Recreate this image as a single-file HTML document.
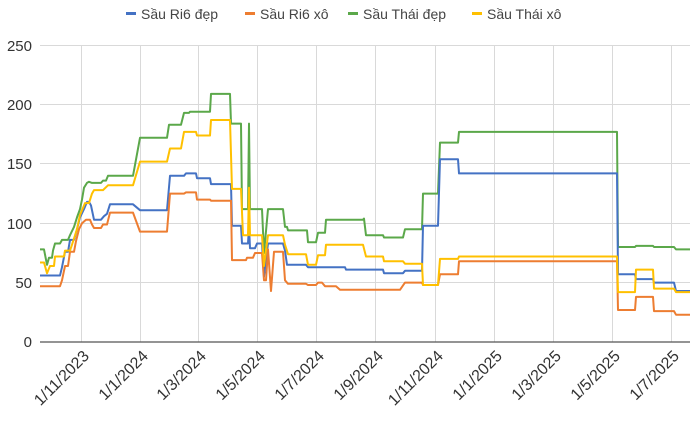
<!DOCTYPE html>
<html><head><meta charset="utf-8"><style>
body{margin:0;background:#fff}
svg{font-family:"Liberation Sans",sans-serif}
</style></head><body>
<svg id="s" width="700" height="420" xmlns="http://www.w3.org/2000/svg">
<rect width="700" height="420" fill="#fff"/>
<g stroke="#d9d9d9" stroke-width="1">
<line x1="40" x2="690" y1="45.5" y2="45.5"/><line x1="40" x2="690" y1="104.5" y2="104.5"/>
<line x1="40" x2="690" y1="163.5" y2="163.5"/><line x1="40" x2="690" y1="223.5" y2="223.5"/>
<line x1="40" x2="690" y1="282.5" y2="282.5"/>
</g>
<g id="vg" stroke="#d9d9d9" stroke-width="1"></g>
<g font-size="15" fill="#333" text-anchor="end">
<text x="32" y="51">250</text><text x="32" y="110">200</text><text x="32" y="169">150</text>
<text x="32" y="229">100</text><text x="32" y="288">50</text><text x="32" y="347">0</text>
</g>
<g id="xl" font-size="16" fill="#333" text-anchor="end"></g>
<g id="ln" fill="none" stroke-width="2" stroke-linejoin="round"></g>
<line x1="40" x2="690" y1="342" y2="342" stroke="#555" stroke-width="1.2"/>
<g font-size="14" fill="#444">
<rect x="126" y="12" width="10" height="3" fill="#4472C4"/><text x="141" y="19">Sầu Ri6 đẹp</text>
<rect x="245" y="12" width="10" height="3" fill="#ED7D31"/><text x="260" y="19">Sầu Ri6 xô</text>
<rect x="348" y="12" width="10" height="3" fill="#5BA84A"/><text x="363" y="19">Sầu Thái đẹp</text>
<rect x="472" y="12" width="10" height="3" fill="#FFC000"/><text x="487" y="19">Sầu Thái xô</text>
</g>
</svg>
<script>
var NS="http://www.w3.org/2000/svg";
function Y(v){return 342-v*1.187;}
var ticks=[[81,"1/11/2023"],[140,"1/1/2024"],[198,"1/3/2024"],[257,"1/5/2024"],[316,"1/7/2024"],[375,"1/9/2024"],[435,"1/11/2024"],[494,"1/1/2025"],[553,"1/3/2025"],[612,"1/5/2025"],[671,"1/7/2025"]];
var vg=document.getElementById("vg"),xl=document.getElementById("xl");
ticks.forEach(function(t){var l=document.createElementNS(NS,"line");l.setAttribute("x1",t[0]+.5);l.setAttribute("x2",t[0]+.5);l.setAttribute("y1",45);l.setAttribute("y2",342);vg.appendChild(l);
var tx=document.createElementNS(NS,"text");tx.setAttribute("transform","translate("+(t[0]+9)+",357) rotate(-45)");tx.textContent=t[1];xl.appendChild(tx);});
var S={
"#5BA84A":[[40,44,78],[47,47,65],[49,52,71],[53,53,77],[55,60,83],[62,68,86],[70,70,90],[74,74,97],[77,77,105],[80,80,112],[82,82,120],[84,84,130],[87,87,134],[89,89,135],[92,101,134],[103,106,136],[108,133,140],[140,167,172],[169,181,183],[184,189,193],[190,210,194],[211,230,209],[231,241,184],[242,248,112],[249,249,184],[250,262,112],[264,264,75],[268,283,112],[285,287,97],[288,307,94],[308,316,84],[318,325,92],[326,363,103],[364,364,104],[366,383,90],[384,403,88],[405,422,95],[423,438,125],[440,458,168],[459,617,177],[618,635,80],[636,653,81],[654,674,80],[676,690,78]],
"#4472C4":[[40,60,56],[62,62,63],[65,68,76],[70,74,86],[77,77,95],[80,80,105],[84,84,112],[87,89,118],[91,91,115],[94,101,103],[104,104,106],[107,107,108],[110,133,116],[140,167,111],[170,184,140],[186,196,142],[197,210,138],[211,231,133],[232,241,98],[242,248,83],[249,249,98],[250,255,79],[257,262,83],[264,264,55],[268,283,83],[285,285,77],[287,306,65],[308,345,63],[346,383,61],[384,403,58],[405,422,60],[423,438,98],[440,458,154],[459,617,142],[618,635,57],[636,653,53],[654,674,50],[676,690,43]],
"#ED7D31":[[40,60,47],[62,62,52],[65,68,64],[70,74,76],[76,76,85],[79,79,95],[82,82,100],[86,90,103],[92,92,99],[94,101,96],[103,107,99],[110,133,109],[140,167,93],[170,184,125],[186,196,126],[197,210,120],[211,231,119],[232,246,69],[247,253,71],[255,262,75],[264,266,52],[268,268,78],[271,271,43],[274,283,76],[285,285,52],[288,306,49],[308,316,48],[318,322,50],[325,336,47],[340,400,44],[405,422,50],[423,438,48],[440,458,57],[459,617,68],[618,635,27],[636,653,38],[654,674,26],[676,690,23]],
"#FFC000":[[40,44,67],[47,47,58],[50,54,64],[55,64,72],[65,70,77],[72,72,82],[77,77,95],[80,80,107],[85,89,117],[92,92,125],[94,103,128],[108,133,132],[140,167,152],[170,181,163],[184,196,177],[197,210,174],[211,230,187],[232,241,129],[243,248,90],[249,249,130],[250,262,90],[264,264,64],[268,283,90],[285,285,82],[288,306,74],[308,316,65],[318,325,73],[326,363,82],[366,383,72],[384,403,68],[405,422,66],[423,438,48],[440,458,70],[459,617,72],[618,635,42],[636,653,61],[654,674,45],[676,690,42]]};
var ln=document.getElementById("ln");
["#5BA84A","#4472C4","#ED7D31","#FFC000"].forEach(function(c){var d="";S[c].forEach(function(s,i){d+=(i?"L":"M")+s[0]+" "+Y(s[2]).toFixed(1)+"L"+s[1]+" "+Y(s[2]).toFixed(1);});
var p=document.createElementNS(NS,"path");p.setAttribute("d",d);p.setAttribute("stroke",c);ln.appendChild(p);});
</script>
</body></html>
